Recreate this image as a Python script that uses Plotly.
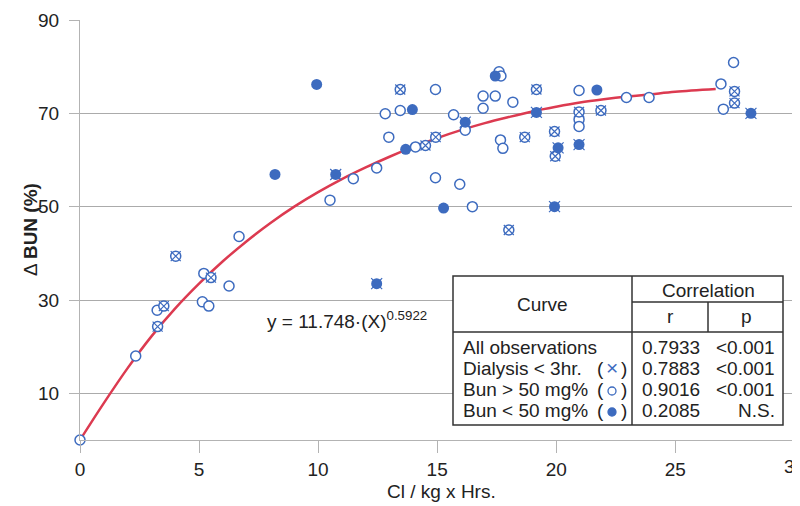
import plotly.graph_objects as go

# ---------------- data ----------------
# Bun > 50 mg% (open circles)
x_open = [0, 2.34, 3.24, 5.2, 5.14, 5.41, 6.26, 6.68, 10.5, 11.48, 12.46, 12.82, 12.97,
          13.45, 14.09, 14.93, 14.93, 15.69, 15.95, 16.18, 16.48, 16.93, 16.93, 17.6,
          17.68, 17.44, 17.66, 17.76, 18.18, 20.96, 20.96, 20.96, 22.95, 23.9, 26.92,
          27.45, 27.02]
y_open = [0, 18.0, 27.8, 35.7, 29.6, 28.7, 33.0, 43.6, 51.4, 56.0, 58.3, 69.9, 64.9,
          70.6, 62.8, 75.1, 56.2, 69.7, 54.8, 66.4, 50.0, 73.7, 71.1, 78.9,
          78.0, 73.7, 64.3, 62.5, 72.4, 74.9, 68.7, 67.2, 73.4, 73.4, 76.3,
          80.9, 70.9]

# Dialysis < 3hr (circle with X, open)
x_dial = [3.26, 3.52, 4.02, 5.5, 13.45, 14.51, 14.94, 18.01, 18.68, 19.17, 19.93,
          19.96, 20.96, 21.88, 27.49, 27.49]
y_dial = [24.3, 28.7, 39.4, 34.8, 75.1, 63.1, 64.9, 45.0, 64.9, 75.1, 66.1,
          60.8, 70.3, 70.6, 74.7, 72.2]

# Bun < 50 mg% (filled circles)
x_fill = [8.19, 9.94, 13.68, 13.96, 15.27, 17.44, 21.71]
y_fill = [56.9, 76.2, 62.3, 70.8, 49.7, 78.0, 75.0]

# Bun < 50 mg% and dialysis < 3hr (filled circle with X)
x_fill_dial = [10.74, 12.46, 16.18, 19.17, 19.93, 20.08, 20.96, 28.18]
y_fill_dial = [56.9, 33.5, 68.1, 70.2, 50.0, 62.6, 63.3, 70.0]

# fitted curve as drawn
curve_x = [0, 1, 2, 3, 4, 5, 6, 7, 8, 9, 10, 11, 12, 13, 14, 15, 16, 17, 18, 19,
           20, 21, 22, 23, 24, 25, 26.7]
curve_y = [0, 7.9, 15.4, 22.2, 28.2, 33.5, 38.3, 42.6, 46.5, 50.0, 53.1, 55.9, 58.4,
           60.7, 62.8, 64.7, 66.4, 67.9, 69.2, 70.4, 71.4, 72.3, 73.0, 73.6, 74.1,
           74.6, 75.2]

x_ticks = [0, 5, 10, 15, 20, 25, 30]
x_ticktext = ["0", "5", "10", "15", "20", "25", ""]  # "30" drawn as annotation (cut at edge)
y_ticks = [10, 30, 50, 70, 90]

table_rows = ["All observations", "Dialysis < 3hr.", "Bun > 50 mg%", "Bun < 50 mg%"]
table_r = ["0.7933", "0.7883", "0.9016", "0.2085"]
table_p = ["<0.001", "<0.001", "<0.001", "N.S."]

BLUE = "#3d6bbf"
RED = "#dc3a50"
GRID = "#ababab"
AXIS = "#b3b3b3"
TXT = "#222222"
FONT = "Liberation Sans, Arial, sans-serif"
FS = 19

# page has an 8px body margin: figure is drawn at (8, 8)
OFF = 8
W, H = 800 - OFF, 506 - OFF
# plot area in page pixels
L, R, T, B = 80, 800, 20, 440


def px(xp):
    return (xp - L) / (R - L)


def py(yp):
    return (B - yp) / (B - T)


fig = go.Figure()

fig.add_trace(go.Scatter(x=curve_x, y=curve_y, mode="lines", cliponaxis=False,
                         line=dict(color=RED, width=2.5, shape="spline"),
                         hoverinfo="skip"))

fig.add_trace(go.Scatter(x=x_open, y=y_open, mode="markers", cliponaxis=False,
                         marker=dict(symbol="circle", size=10, color="white",
                                     line=dict(color=BLUE, width=1.5))))
fig.add_trace(go.Scatter(x=x_dial, y=y_dial, mode="markers",
                         marker=dict(symbol="circle", size=10, color="white",
                                     line=dict(color=BLUE, width=1.5))))
fig.add_trace(go.Scatter(x=x_dial, y=y_dial, mode="markers",
                         marker=dict(symbol="x-thin-open", size=10, color=BLUE,
                                     line=dict(color=BLUE, width=1.2))))
fig.add_trace(go.Scatter(x=x_fill, y=y_fill, mode="markers",
                         marker=dict(symbol="circle", size=11, color=BLUE,
                                     line=dict(color=BLUE, width=0))))
fig.add_trace(go.Scatter(x=x_fill_dial, y=y_fill_dial, mode="markers",
                         marker=dict(symbol="circle", size=11, color=BLUE,
                                     line=dict(color=BLUE, width=0))))
fig.add_trace(go.Scatter(x=x_fill_dial, y=y_fill_dial, mode="markers",
                         marker=dict(symbol="x-thin-open", size=11, color=BLUE,
                                     line=dict(color=BLUE, width=1.2))))

shapes = []
ann = []

# table
tl, tr, tt, tb = 453, 783, 276, 425
vcol, vrp, hcorr, hhead = 632, 708, 302, 332
line_c = "#333333"
shapes.append(dict(type="rect", xref="paper", yref="paper", x0=px(tl), x1=px(tr),
                   y0=py(tb), y1=py(tt), fillcolor="white",
                   line=dict(color=line_c, width=1.5), layer="above"))
for (x0, y0, x1, y1) in [(vcol, tt, vcol, tb), (vcol, hcorr, tr, hcorr),
                         (vrp, hcorr, vrp, hhead), (tl, hhead, tr, hhead)]:
    shapes.append(dict(type="line", xref="paper", yref="paper", x0=px(x0), x1=px(x1),
                       y0=py(y0), y1=py(y1), line=dict(color=line_c, width=1.5),
                       layer="above"))


def text(t, x, y, xanchor="center", size=FS, color=TXT, **kw):
    ann.append(dict(text=t, x=px(x), y=py(y), xref="paper", yref="paper",
                    xanchor=xanchor, yanchor="middle", showarrow=False,
                    font=dict(family=FONT, size=size, color=color), **kw))


text("Curve", 542, 304)
text("Correlation", 708, 290)
text("r", 670, 317)
text("p", 746, 317)
row_y = [347, 368, 389, 410]
for i, name in enumerate(table_rows):
    text(name, 461, row_y[i], xanchor="left")
    text(table_r[i], 640, row_y[i], xanchor="left")
    text(table_p[i], 777, row_y[i], xanchor="right")
for i in (1, 2, 3):
    text("(", 600, row_y[i])
    text(")", 624, row_y[i])
text("×", 612, row_y[1] - 1, color=BLUE, size=21)
# small legend circles in table
for i, filled in ((2, False), (3, True)):
    cx, cy = px(612), py(row_y[i] + 2)
    shapes.append(dict(type="circle", xref="paper", yref="paper",
                       xsizemode="pixel", ysizemode="pixel", xanchor=cx, yanchor=cy,
                       x0=-4, x1=4, y0=-4, y1=4,
                       fillcolor=BLUE if filled else "white",
                       line=dict(color=BLUE, width=1.3), layer="above"))

# equation
text("y = 11.748·(X)<sup>0.5922</sup>", 265, 320, xanchor="left")

# last x tick label, partly beyond the right edge
ann.append(dict(text="30", x=x_ticks[-1], xref="x", y=py(466), yref="paper",
                xanchor="center", yanchor="middle", showarrow=False,
                font=dict(family=FONT, size=FS, color=TXT)))

# axis titles
text("Cl / kg x Hrs.", 441, 491)
ann.append(dict(text="Δ <b>BUN (%)</b>", x=px(30), y=py(230), xref="paper", yref="paper",
                xanchor="center", yanchor="middle", showarrow=False, textangle=-90,
                font=dict(family=FONT, size=FS, color=TXT)))

fig.update_layout(
    width=W, height=H,
    margin=dict(l=L - OFF, r=800 - R, t=T - OFF, b=H - (B - OFF)),
    paper_bgcolor="white", plot_bgcolor="white",
    showlegend=False,
    shapes=shapes, annotations=ann,
    font=dict(family=FONT, size=FS, color=TXT),
    xaxis=dict(range=[0, 30.24], tickvals=x_ticks, ticktext=x_ticktext,
               showgrid=False, zeroline=False, automargin=False,
               showline=True, linecolor=AXIS, linewidth=1.2,
               ticks="outside", ticklen=12, tickcolor=AXIS, tickwidth=1.2,
               tickfont=dict(family=FONT, size=FS, color=TXT)),
    yaxis=dict(range=[0, 90], tickvals=y_ticks, showgrid=True, gridcolor=GRID,
               gridwidth=1.2, zeroline=False, automargin=False,
               showline=True, linecolor=AXIS, linewidth=1.2,
               ticks="outside", ticklen=10, tickcolor=AXIS, tickwidth=1.2,
               ticklabelstandoff=6,
               tickfont=dict(family=FONT, size=FS, color=TXT)),
)

fig.write_html("out.html")
